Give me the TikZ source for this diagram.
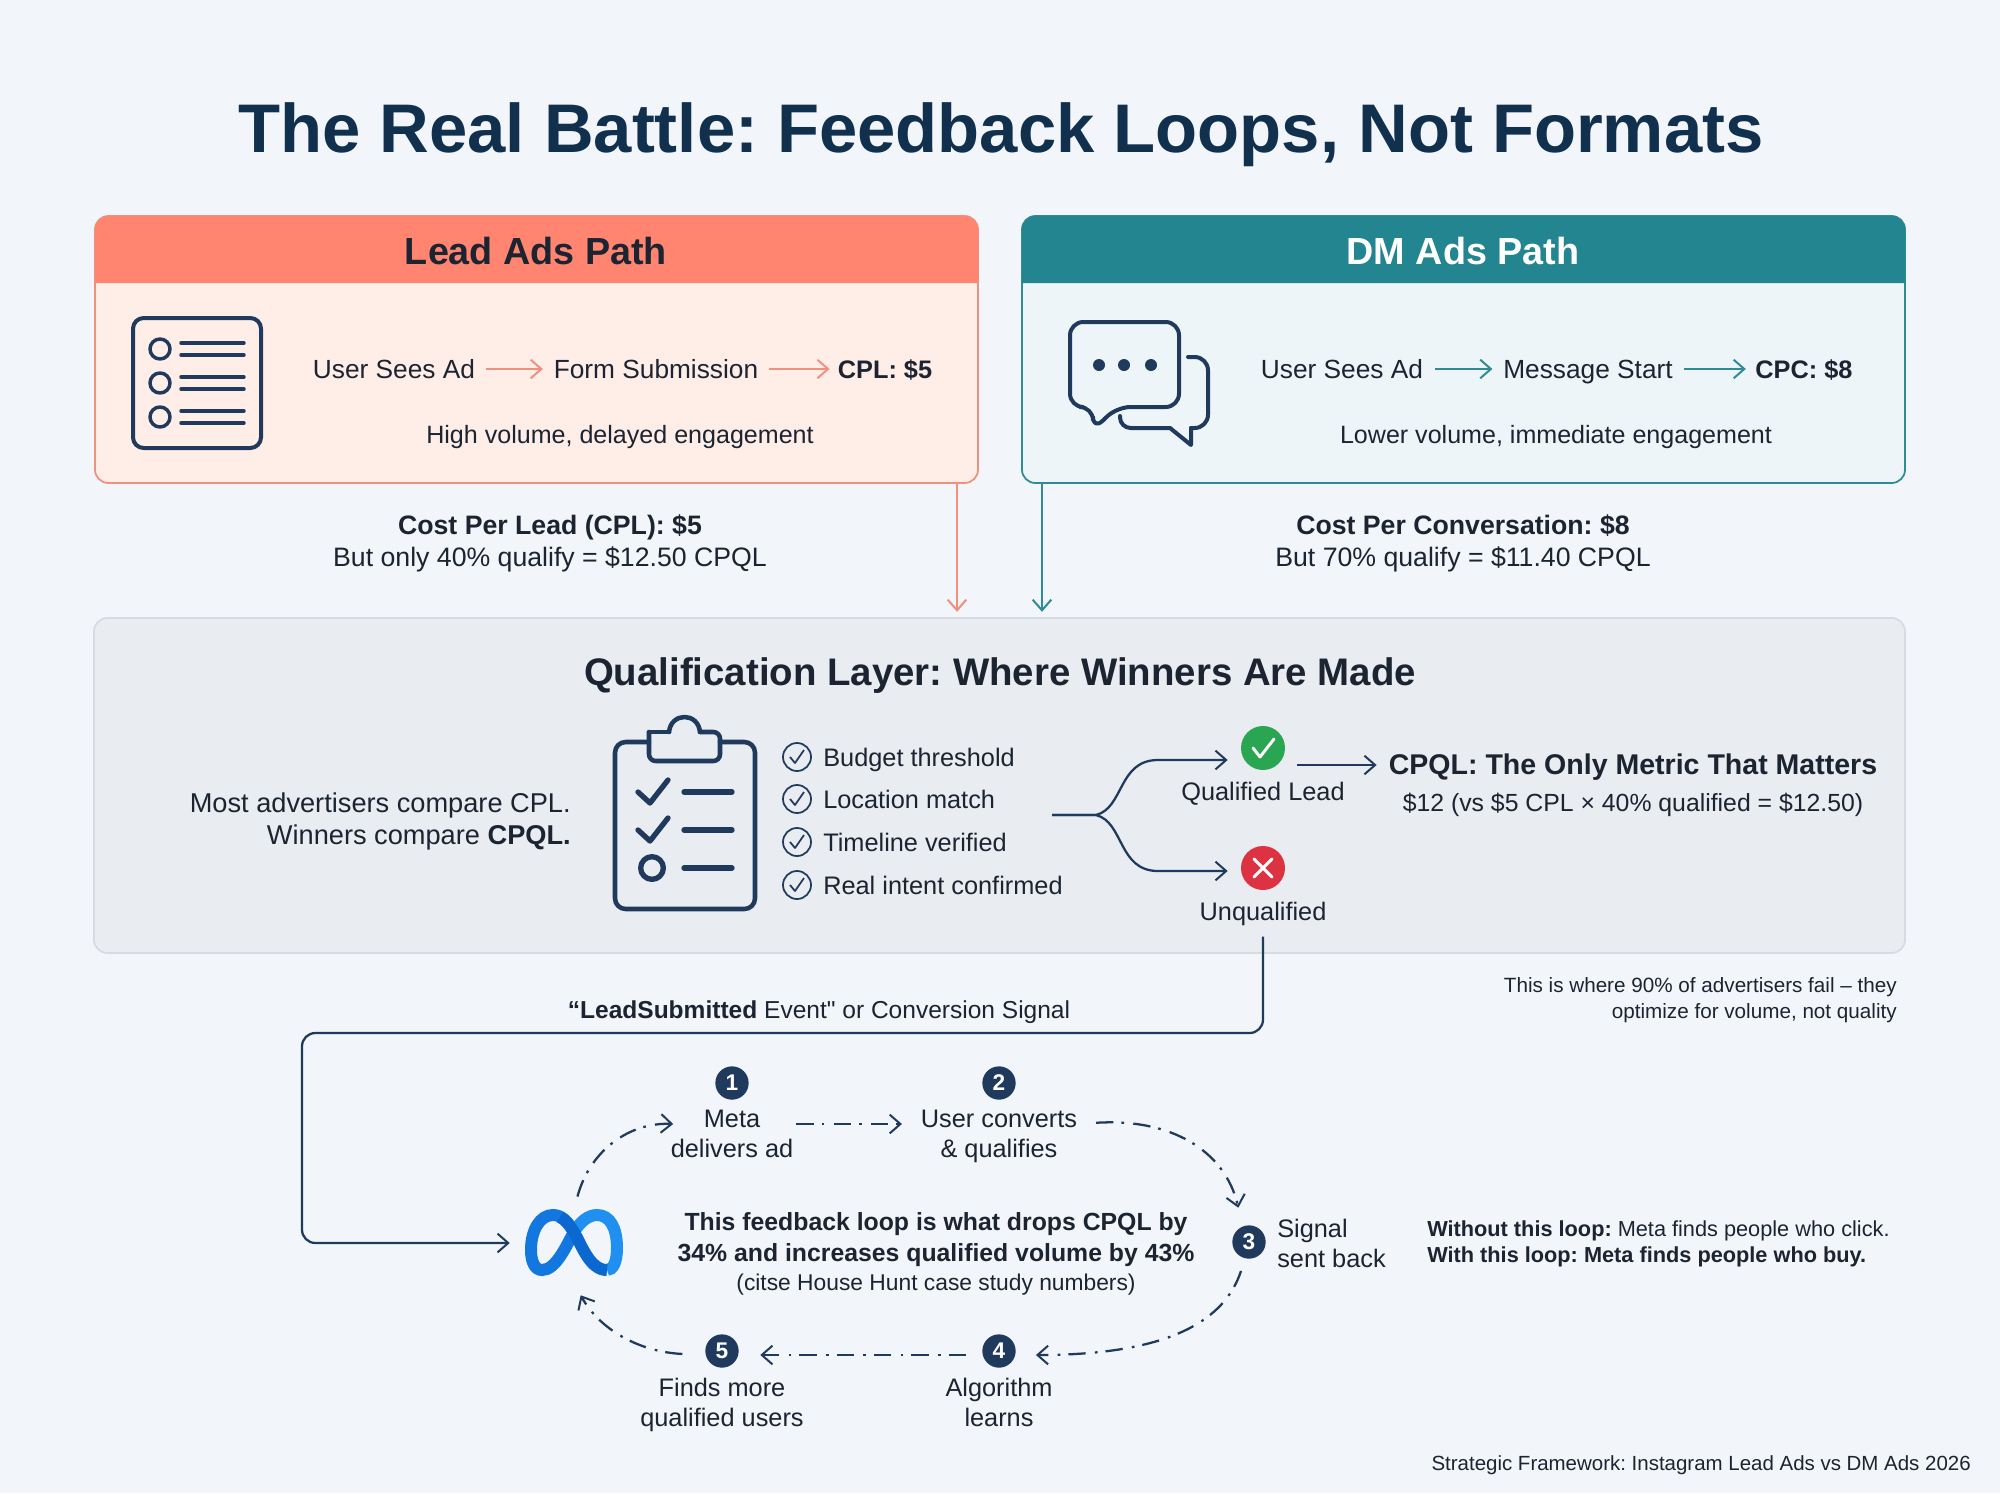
\documentclass[tikz,border=0pt]{standalone}
\usepackage{fontspec}
\setmainfont{Liberation Sans}
\newfontfamily\rawsans{Liberation Sans}
\frenchspacing
\usetikzlibrary{arrows.meta}
\definecolor{pagebg}{HTML}{F2F5F9}
\definecolor{inkdark}{HTML}{1B2430}
\definecolor{titleink}{HTML}{11304E}
\definecolor{navy}{HTML}{1F3A5C}
\definecolor{leadhead}{HTML}{FF8571}
\definecolor{leadbody}{HTML}{FFEDE8}
\definecolor{leadline}{HTML}{F0917D}
\definecolor{dmhead}{HTML}{22858F}
\definecolor{dmbody}{HTML}{EDF5F8}
\definecolor{dmline}{HTML}{2F8B95}
\definecolor{qualfill}{HTML}{E9ECF1}
\definecolor{qualline}{HTML}{D6DBE1}
\definecolor{okgreen}{HTML}{2AA652}
\definecolor{badred}{HTML}{DD3242}
\definecolor{metablue}{HTML}{1278E0}
\definecolor{metalight}{HTML}{1F90F0}
\definecolor{metadark}{HTML}{0B68D0}
\tikzset{
  >/.tip={Straight Barb[length=8pt,width=14pt,line width=1.5pt]},
  lbl/.style={inner sep=0pt,yshift=-2pt,text=inkdark,font=\fontsize{19}{24}\selectfont,align=center,execute at begin node=\strut,execute at end node=\strut},
  flowtxt/.style={lbl,font=\fontsize{19.7}{24}\selectfont},
  sumtxt/.style={lbl,font=\fontsize{20}{24}\selectfont},
  small/.style={lbl,font=\fontsize{19}{22.5}\selectfont},
  note/.style={lbl,font=\fontsize{15.5}{19}\selectfont},
  pathbox/.style={draw,rounded corners=10pt,line width=1.3pt,minimum width=662.25pt,minimum height=200.25pt,inner sep=0pt},
  headtxt/.style={lbl,font=\fontsize{28.3}{32}\selectfont\bfseries},
  icon/.style={draw=navy,line width=3pt,line cap=round,line join=round},
  link/.style={draw=navy,line width=1.7pt},
  flowlead/.style={draw=leadline,line width=1.7pt},
  flowdm/.style={draw=dmline,line width=1.7pt},
  loopdash/.style={draw=navy,line width=1.7pt,dash pattern=on 13pt off 6pt on 2pt off 7pt},
  numdot/.style={circle,fill=navy,text=white,inner sep=0pt,minimum size=25pt,font=\fontsize{17}{20}\selectfont\bfseries},
  chkdot/.style={circle,draw=navy,line width=1.3pt,inner sep=0pt,minimum size=21pt},
  signdot/.style={circle,inner sep=0pt,minimum size=33pt}
}
\begin{document}
\begin{tikzpicture}[x=0.75pt,y=-0.75pt]
\fill[pagebg] (0,0) rectangle (2000,1493);
\useasboundingbox (0,0) rectangle (2000,1493);

\node[lbl,text=titleink,font=\fontsize{51.6}{58}\selectfont\bfseries] (title) at (1001,134) {The Real Battle: Feedback Loops, Not Formats};

\node[pathbox,draw=leadline,fill=leadbody] (leadbox) at (536.5,349.5) {};
\fill[leadhead] (95,283) [rounded corners=10pt] -- (95,216) -- (978,216) [sharp corners] -- (978,283) -- cycle;
\node[headtxt] (leadhdr) at (536,253) {Lead Ads Path};
\draw[icon,rounded corners=8pt] (133,318) rectangle (261,448);
\foreach \yy in {349,383,417}
{
  \draw[icon,line width=2.6pt] (160,\yy) circle (7.5pt);
  \draw[icon,line width=2.6pt] (181,\yy-6) -- (244,\yy-6);
  \draw[icon,line width=2.6pt] (181,\yy+6) -- (244,\yy+6);
}
\node[flowtxt] (leadsee) at (394,369) {User Sees Ad};
\node[flowtxt] (leadform) at (656,369) {Form Submission};
\node[lbl,font=\fontsize{19}{24}\selectfont\bfseries] (leadcost) at (885,369) {CPL: \$5};
\draw[->,flowlead,shorten <=8pt,shorten >=8pt] ([yshift=2pt]leadsee.east) -- ([yshift=2pt]leadform.west);
\draw[->,flowlead,shorten <=8pt,shorten >=6pt] ([yshift=2pt]leadform.east) -- ([yshift=2pt]leadcost.west);
\node[lbl,font=\fontsize{18.8}{24}\selectfont] (leadnote) at (620,434) {High volume, delayed engagement};
\node[sumtxt] (leadsum) at (550,543) {\textbf{Cost Per Lead (CPL): \$5}\\But only 40\% qualify = \$12.50 CPQL};

\node[pathbox,draw=dmline,fill=dmbody] (dmbox) at (1463.5,349.5) {};
\fill[dmhead] (1022,283) [rounded corners=10pt] -- (1022,216) -- (1905,216) [sharp corners] -- (1905,283) -- cycle;
\node[headtxt,text=white] (dmhdr) at (1463,253) {DM Ads Path};
\draw[icon,rounded corners=10pt] (1117,407) -- (1093,430) -- (1093,407) -- (1070,407) -- (1070,322) -- (1179,322) -- (1179,407) -- cycle;
\draw[icon,rounded corners=10pt] (1188,357) -- (1208,357) -- (1208,428) -- (1191,428);
\draw[icon] (1191,428) -- (1191,445) -- (1170,428);
\draw[icon,rounded corners=8pt] (1170,428) -- (1120,428) -- (1120,416);
\foreach \xx in {1099,1124,1151}
{
  \fill[navy] (\xx,365) circle (4.5pt);
}
\node[flowtxt] (dmsee) at (1342,369) {User Sees Ad};
\node[flowtxt] (dmmsg) at (1588,369) {Message Start};
\node[lbl,font=\fontsize{19}{24}\selectfont\bfseries] (dmcost) at (1804,369) {CPC: \$8};
\draw[->,flowdm,shorten <=9pt,shorten >=8pt] ([yshift=2pt]dmsee.east) -- ([yshift=2pt]dmmsg.west);
\draw[->,flowdm,shorten <=8pt,shorten >=7pt] ([yshift=2pt]dmmsg.east) -- ([yshift=2pt]dmcost.west);
\node[lbl,font=\fontsize{18.8}{24}\selectfont] (dmnote) at (1556,434) {Lower volume, immediate engagement};
\node[sumtxt] (dmsum) at (1463,543) {\textbf{Cost Per Conversation: \$8}\\But 70\% qualify = \$11.40 CPQL};

\node[draw=qualline,fill=qualfill,rounded corners=10pt,line width=1.3pt,minimum width=1358.25pt,minimum height=251.25pt,inner sep=0pt] (qualbox) at (999.5,785.5) {};
\coordinate (leadport) at (957,483);
\coordinate (dmport) at (1042,483);
\draw[->,flowlead,shorten >=4pt] (leadport) -- (leadport |- qualbox.north);
\draw[->,flowdm,shorten >=4pt] (dmport) -- (dmport |- qualbox.north);
\node[lbl,font=\fontsize{28.8}{32}\selectfont\bfseries] (qualhdr) at (1000,674) {Qualification Layer: Where Winners Are Made};
\node[lbl,align=right,anchor=east,font=\fontsize{20.4}{24}\selectfont] (compare) at (571,821) {Most advertisers compare CPL.\\Winners compare \textbf{CPQL.}};

\draw[icon,line width=3.4pt,rounded corners=8pt] (649,742) -- (615,742) -- (615,909) -- (755,909) -- (755,742) -- (720,742);
\draw[icon,line width=3.4pt,rounded corners=5pt] (649,732) -- (649,761) -- (720,761) -- (720,732) -- (700,732);
\draw[icon,line width=3.4pt] (700,732) .. controls (698,712) and (671,712) .. (669,732);
\draw[icon,line width=3.4pt,rounded corners=5pt] (669,732) -- (649,732);
\foreach \yy in {792,830}
{
  \draw[icon,line width=4pt] (638,\yy) -- (650,\yy+11) -- (668,\yy-12);
  \draw[icon,line width=4pt] (684,\yy) -- (732,\yy);
}
\draw[icon,line width=4pt] (652,868) circle (8.5pt);
\draw[icon,line width=4pt] (684,868) -- (732,868);

\foreach \i/\yy/\lbltxt in {1/757/Budget threshold,2/799/Location match,3/842/Timeline verified,4/885/Real intent confirmed}
{
  \node[chkdot] (chk\i) at (797,\yy) {};
  \draw[draw=navy,line width=1.3pt,line join=round] (790,\yy) -- (795,\yy+6) -- (804,\yy-7);
  \node[lbl,anchor=west] (item\i) at (823,\yy) {\lbltxt};
}

\coordinate (branch) at (1052,815);
\node[signdot,fill=okgreen] (qual) at (1263,748) {};
\node[signdot,fill=badred] (unq) at (1263,868) {};
\draw[draw=white,line width=2.2pt,line cap=round,line join=round] (1253,748) -- (1260,757) -- (1274,739);
\draw[draw=white,line width=2.2pt,line cap=round] (1254,859) -- (1272,877) (1272,859) -- (1254,877);
\node[lbl] (qualtxt) at (1263,791) {Qualified Lead};
\node[lbl] (unqtxt) at (1263,911) {Unqualified};
\coordinate (qualin) at (1241,760);
\coordinate (unqin) at (1241,871);
\draw[->,link,shorten >=10pt] (branch) -- (1096,815) .. controls (1124,808) and (1118,760) .. (1158,760) -- (qualin);
\draw[->,link,shorten >=10pt] (branch) -- (1096,815) .. controls (1124,822) and (1118,871) .. (1158,871) -- (unqin);
\node[lbl,font=\fontsize{21.4}{26}\selectfont\bfseries] (cpqlhdr) at (1633,765) {CPQL: The Only Metric That Matters};
\node[lbl,font=\fontsize{18.6}{24}\selectfont] (cpqlsub) at (1633,802) {\$12 (vs \$5 CPL × 40\% qualified = \$12.50)};
\draw[->,link,shorten <=9pt,shorten >=9pt] ([yshift=2pt]qual.east |- cpqlhdr.west) -- ([yshift=2pt]cpqlhdr.west);

\node[note,align=right,anchor=east] (failnote) at (1897,999) {This is where 90\% of advertisers fail – they\\optimize for volume, not quality};
\node[lbl,font=\fontsize{18.4}{24}\selectfont] (signal) at (819,1009) {\textbf{“LeadSubmitted} Event{\rawsans"} or Conversion Signal};

\node[inner sep=0pt,minimum width=72pt,minimum height=50pt] (metalogo) at (574,1243) {};
\draw[draw=metablue,line width=9pt] (574,1232) .. controls (568,1222) and (562,1215) .. (553,1215) .. controls (540,1215) and (531,1230) .. (531,1250) .. controls (531,1262) and (535,1270) .. (542,1270) .. controls (556,1270) and (566,1246) .. (574,1232);
\draw[draw=metalight,line width=9pt] (574,1232) .. controls (580,1222) and (588,1215) .. (597,1215) .. controls (610,1215) and (617,1228) .. (617,1248) .. controls (617,1262) and (613,1270) .. (607,1270);
\draw[draw=metadark,line width=9pt] (560,1217) .. controls (566,1220) and (570,1226) .. (574,1232) .. controls (582,1246) and (590,1270) .. (607,1270);

\node[numdot] (num1) at (732,1083) {1};
\node[numdot] (num2) at (999,1083) {2};
\node[numdot] (num3) at (1249,1242) {3};
\node[numdot] (num4) at (999,1351) {4};
\node[numdot] (num5) at (722,1351) {5};
\node[small] (step1) at (732,1136) {Meta\\delivers ad};
\node[small] (step2) at (999,1136) {User converts\\\& qualifies};
\node[small,align=left,anchor=west] (step3) at (1277,1245) {Signal\\sent back};
\node[small] (step4) at (999,1404) {Algorithm\\learns};
\node[small] (step5) at (722,1404) {Finds more\\qualified users};

\node[lbl,font=\fontsize{18.6}{23.5}\selectfont\bfseries] (loopmsg) at (936,1239) {This feedback loop is what drops CPQL by\\34\% and increases qualified volume by 43\%};
\node[lbl,font=\fontsize{17.1}{20}\selectfont] (loopcite) at (936,1282) {(citse House Hunt case study numbers)};
\node[note,align=left,anchor=west,font=\fontsize{16.3}{19.5}\selectfont] (loopwhy) at (1427,1243) {\textbf{Without this loop:} Meta finds people who click.\\\textbf{With this loop: Meta finds people who buy.}};
\node[note,anchor=east,font=\fontsize{15.35}{19}\selectfont] (footer) at (1971,1463) {Strategic Framework: Instagram Lead Ads vs DM Ads 2026};

\coordinate (fbcorner) at (302,1033);
\draw[->,link,rounded corners=10pt,shorten <=5pt,shorten >=12pt] (unqtxt.south) |- (fbcorner) |- (metalogo.west);

\draw[->,loopdash,shorten <=10pt] (metalogo.north) .. controls (590,1150) and (630,1122) .. ([yshift=11pt,xshift=2pt]step1.west);
\draw[->,loopdash,shorten <=2pt,shorten >=14pt] ([yshift=11pt]step1.east) -- ([yshift=11pt]step2.west);
\draw[->,loopdash,shorten <=14pt] ([yshift=11pt]step2.east) .. controls (1170,1118) and (1225,1150) .. ([yshift=13pt,xshift=-8pt]num3.north);
\draw[->,loopdash] ([yshift=-9pt,xshift=-6pt]num3.south) .. controls (1225,1320) and (1170,1355) .. ([xshift=15pt,yshift=-3pt]num4.east);
\draw[->,loopdash,shorten <=12pt,shorten >=16pt] ([yshift=-3pt]num4.west) -- ([yshift=-3pt]num5.east);
\draw[->,loopdash,shorten <=17pt] ([yshift=-3pt]num5.west) .. controls (640,1352) and (600,1330) .. ([xshift=5pt,yshift=-14pt]metalogo.south);
\end{tikzpicture}
\end{document}
